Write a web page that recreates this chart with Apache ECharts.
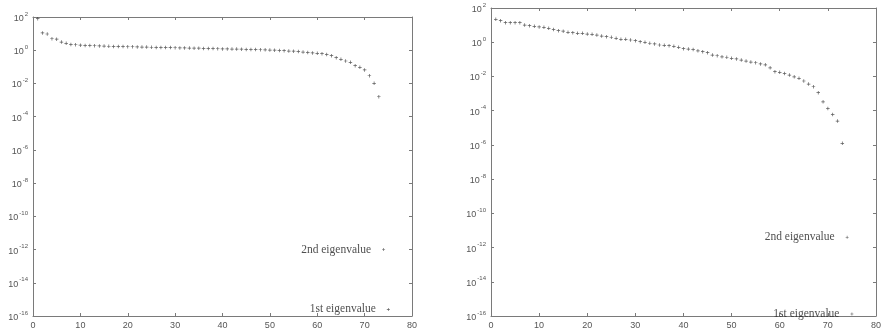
<!DOCTYPE html>
<html>
<head>
<meta charset="utf-8">
<script src="https://cdn.jsdelivr.net/npm/echarts@6/dist/echarts.min.js"></script>
<style>
  html, body { margin: 0; padding: 0; background: #fff; }
  #main { width: 884px; height: 332px; }
</style>
</head>
<body>
<div id="main"></div>
<script>
// eigenvalues, index 1..73
const leftValues = [
  79, 11, 9.5, 4.9, 4.6, 3.1, 2.6, 2.24, 2.14, 2.0,
  1.95, 1.91, 1.86, 1.82, 1.78, 1.74, 1.70, 1.70, 1.66, 1.62,
  1.62, 1.58, 1.55, 1.55, 1.51, 1.48, 1.48, 1.45, 1.45, 1.41,
  1.38, 1.38, 1.35, 1.32, 1.32, 1.29, 1.26, 1.26, 1.23, 1.20,
  1.20, 1.17, 1.17, 1.15, 1.12, 1.12, 1.10, 1.07, 1.05, 1.02,
  1.0, 0.955, 0.933, 0.891, 0.871, 0.832, 0.776, 0.741, 0.692, 0.646,
  0.617, 0.562, 0.468, 0.355, 0.282, 0.224, 0.186, 0.117, 0.093, 0.065,
  0.029, 0.0102, 0.00158
];
const rightValues = [
  21.9, 18.2, 13.8, 13.8, 13.8, 13.8, 10.0, 9.3, 8.5, 7.8,
  7.4, 6.5, 5.6, 4.7, 4.4, 3.8, 3.6, 3.3, 3.3, 3.0,
  2.9, 2.6, 2.3, 2.1, 1.95, 1.70, 1.48, 1.48, 1.35, 1.23,
  1.07, 0.98, 0.87, 0.79, 0.69, 0.66, 0.63, 0.575, 0.50, 0.417,
  0.398, 0.380, 0.316, 0.282, 0.245, 0.178, 0.162, 0.141, 0.132, 0.115,
  0.105, 0.091, 0.079, 0.069, 0.063, 0.054, 0.048, 0.032, 0.019, 0.0174,
  0.0151, 0.0120, 0.0095, 0.0078, 0.0054, 0.0036, 0.0025, 0.00112, 0.00033, 0.000135,
  0.00006, 0.0000245, 0.00000123
];
// the two smallest eigenvalues, labelled
const leftLabelled = [
  { name: '2nd eigenvalue', x: 74, v: 1e-12 },
  { name: '1st eigenvalue', x: 75, v: 2.5e-16 }
];
const rightLabelled = [
  { name: '2nd eigenvalue', x: 74, v: 4e-12 },
  { name: '1st eigenvalue', x: 75, v: 1.3e-16 }
];
const xTicks = [0, 10, 20, 30, 40, 50, 60, 70, 80];

const axisColor = '#7a7a7a';
const textColor = '#555';
const dotColor = '#333';
const plus = 'path://M4,0L6,0L6,4L10,4L10,6L6,6L6,10L4,10L4,6L0,6L0,4L4,4Z';

function xAxisFor(gi, top) {
  return {
    type: 'value', gridIndex: gi, position: top ? 'top' : 'bottom',
    min: xTicks[0], max: xTicks[xTicks.length - 1], interval: 10,
    axisLine: { onZero: false, lineStyle: { color: axisColor, width: 1 } },
    axisTick: { inside: true, length: 3, lineStyle: { color: axisColor } },
    splitLine: { show: false },
    axisLabel: {
      show: !top, fontSize: 9, color: textColor, margin: 5,
      fontFamily: 'Liberation Sans'
    }
  };
}
function yAxisFor(gi, right) {
  return {
    type: 'log', logBase: 10, gridIndex: gi, position: right ? 'right' : 'left',
    min: 1e-16, max: 1e2, interval: 2,
    axisLine: { onZero: false, lineStyle: { color: axisColor, width: 1 } },
    axisTick: { inside: true, length: 3, lineStyle: { color: axisColor } },
    splitLine: { show: false },
    axisLabel: {
      show: !right, color: textColor, margin: 5, fontSize: 9,
      fontFamily: 'Liberation Sans',
      formatter: function (v) {
        return '{b|10}{s|' + Math.round(Math.log10(v)) + '}';
      },
      rich: {
        b: { fontSize: 9, color: textColor, lineHeight: 12, verticalAlign: 'bottom' },
        s: { fontSize: 6, color: textColor, lineHeight: 12, verticalAlign: 'top', padding: [0, 0, 0, 1] }
      }
    }
  };
}
function points(values) {
  return values.map(function (v, i) { return [i + 1, v]; });
}
function labelled(list) {
  return list.map(function (d) { return { name: d.name, value: [d.x, d.v] }; });
}
function mainSeries(gi, values) {
  return {
    type: 'scatter', xAxisIndex: gi * 2, yAxisIndex: gi * 2,
    symbol: plus, symbolSize: 3.5, itemStyle: { color: dotColor },
    data: points(values), silent: true
  };
}
function labelSeries(gi, list) {
  return {
    type: 'scatter', xAxisIndex: gi * 2, yAxisIndex: gi * 2,
    symbol: plus, symbolSize: 3, itemStyle: { color: dotColor },
    data: labelled(list), silent: true,
    label: {
      show: true, position: 'left', distance: 11,
      formatter: '{b}', color: '#222', fontSize: 11.5,
      fontFamily: 'Liberation Serif'
    }
  };
}

const chart = echarts.init(document.getElementById('main'), null, { renderer: 'canvas' });
chart.setOption({
  animation: false,
  backgroundColor: '#fff',
  grid: [
    { left: 33, top: 17, width: 379, height: 299 },
    { left: 491, top: 8, width: 391, height: 308 }
  ],
  xAxis: [xAxisFor(0, false), xAxisFor(0, true), xAxisFor(1, false), xAxisFor(1, true)],
  yAxis: [yAxisFor(0, false), yAxisFor(0, true), yAxisFor(1, false), yAxisFor(1, true)],
  series: [
    mainSeries(0, leftValues),
    labelSeries(0, leftLabelled),
    mainSeries(1, rightValues),
    labelSeries(1, rightLabelled)
  ]
});
</script>
</body>
</html>
